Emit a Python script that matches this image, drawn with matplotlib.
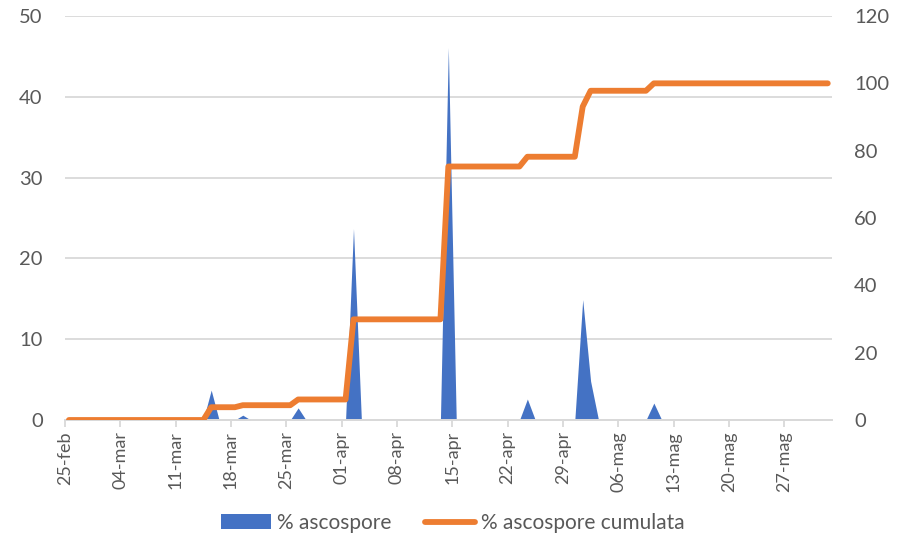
import numpy as np
import pandas as pd
import matplotlib
matplotlib.use("Agg")
import matplotlib.pyplot as plt
from matplotlib.patches import Patch
from matplotlib.lines import Line2D

plt.rcParams['font.family'] = ['Lato', 'DejaVu Sans']

# daily series, 25-feb .. 01-giu
start_date = "2019-02-25"
n_days = 97
month_names = {2: "feb", 3: "mar", 4: "apr", 5: "mag", 6: "giu"}

# days with ascospore release (% of season total)
spike_dates = ["2019-03-15", "2019-03-19", "2019-03-26", "2019-04-02", "2019-04-14",
               "2019-04-24", "2019-05-01", "2019-05-02", "2019-05-10"]
spike_values = [3.7, 0.6, 1.5, 23.7, 46.1, 2.6, 14.9, 4.8, 2.1]
# cumulative % read at the same days
cum_values = [3.8, 4.4, 6.1, 29.9, 75.3, 78.2, 93.1, 97.8, 100.0]

left_ticks = [0, 10, 20, 30, 40, 50]
right_ticks = [0, 20, 40, 60, 80, 100, 120]

BLUE = "#4472C4"
ORANGE = "#ED7D31"
TEXT = "#595959"
GRID = "#D9D9D9"


def build_series():
    dates = pd.date_range(start_date, periods=n_days, freq="D")
    daily = pd.Series(0.0, index=dates)
    cum = pd.Series(np.nan, index=dates)
    cum.iloc[0] = 0.0
    for d, v, c in zip(spike_dates, spike_values, cum_values):
        daily[pd.Timestamp(d)] = v
        cum[pd.Timestamp(d)] = c
    cum = cum.ffill()
    labels = ["%02d-%s" % (d.day, month_names[d.month]) for d in dates]
    return daily.values, cum.values, labels


def main():
    daily, cum, labels = build_series()
    x = np.arange(n_days)

    fig = plt.figure(figsize=(9.06, 5.43), dpi=100)
    ax = fig.add_axes([0.0717, 0.2265, 0.8463, 0.744])
    ax2 = ax.twinx()

    ax.fill_between(x, 0, daily, color=BLUE, linewidth=0, zorder=2)
    ax2.plot(x, cum, color=ORANGE, linewidth=4.2, solid_capstyle='round',
             solid_joinstyle='round', zorder=3)

    ax.set_xlim(-0.5, n_days - 0.5)
    ax.set_ylim(0, 50)
    ax2.set_ylim(0, 120)
    ax.set_yticks(left_ticks)
    ax2.set_yticks(right_ticks)

    # one label a week, tick on the category boundary
    tick_idx = np.arange(0, n_days, 7)
    ax.set_xticks(tick_idx - 0.5)
    ax.set_xticklabels([labels[i] for i in tick_idx], rotation=90, va='top', ha='center')

    ax.grid(axis='y', color=GRID, linewidth=1.3, zorder=0)
    ax.set_axisbelow(True)
    for a in (ax, ax2):
        for s in ('top', 'left', 'right'):
            a.spines[s].set_visible(False)
        a.spines['bottom'].set_color(GRID)
        a.spines['bottom'].set_linewidth(1.3)

    ax.tick_params(axis='y', length=0, pad=16, labelsize=14.5, labelcolor=TEXT)
    ax2.tick_params(axis='y', length=0, pad=16, labelsize=14.5, labelcolor=TEXT)
    ax.tick_params(axis='x', length=5, width=1.3, color=GRID, pad=3,
                   labelsize=13, labelcolor=TEXT)

    handles = [Patch(facecolor=BLUE, edgecolor='none'),
               Line2D([0], [0], color=ORANGE, linewidth=4.2, solid_capstyle='round')]
    fig.legend(handles, ["% ascospore", "% ascospore cumulata"], loc='center',
               bbox_to_anchor=(0.5, 0.037), ncol=2, frameon=False, fontsize=15,
               labelcolor=TEXT, handlelength=2.4, handletextpad=0.3, columnspacing=1.6)

    fig.savefig("out.png", dpi=100)


if __name__ == '__main__':
    main()
